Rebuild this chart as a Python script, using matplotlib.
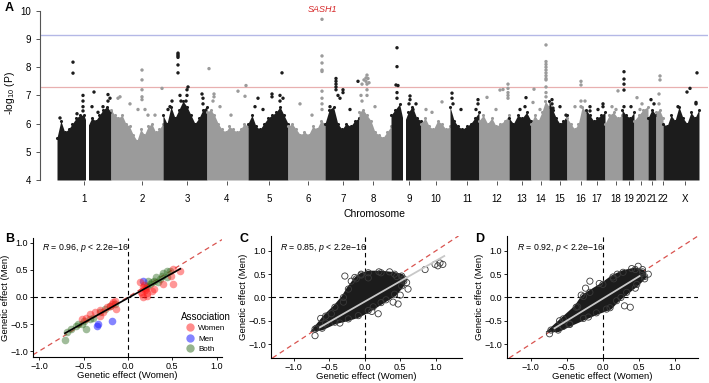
import numpy as np
import matplotlib
matplotlib.use("Agg")
import matplotlib.pyplot as plt
from matplotlib.lines import Line2D

plt.rcParams['font.family'] = ['Liberation Sans', 'DejaVu Sans']
plt.rcParams['mathtext.fontset'] = 'custom'
plt.rcParams['mathtext.rm'] = 'Liberation Sans'
plt.rcParams['mathtext.it'] = 'Liberation Sans:italic'

# ---- panel A: Manhattan plot ----
chrom_names = ["1", "2", "3", "4", "5", "6", "7", "8", "9", "10", "11", "12",
               "13", "14", "15", "16", "17", "18", "19", "20", "21", "22", "X"]
chrom_start = [17, 71, 123, 167, 208, 248, 285, 319, 351, 381, 410, 439,
               469, 491, 509, 527, 546, 565, 582, 594, 608, 616, 623]
chrom_end = [71, 123, 167, 208, 248, 285, 319, 351, 381, 410, 439, 469,
             491, 509, 527, 546, 565, 582, 594, 608, 616, 623, 659]
chrom_tick = [44, 102, 147, 187, 229, 268, 303, 333, 369, 396, 427, 457,
              482, 501, 520, 541, 557, 576, 589, 601, 612, 623, 645]
centromere_gaps = [(46, 49), (363, 366)]

# top of the dense cloud of SNPs along each chromosome (-log10 P)
bulk_tops = [
    [5.5, 6.1, 5.7, 5.8, 6.0, 6.2, 6.3, 6.3, 5.9, 6.2, 6.1, 6.3, 6.5, 6.6, 6.4],
    [6.5, 6.3, 6.2, 6.3, 6.0, 5.9, 5.6, 5.4, 5.8, 5.6, 5.9, 6.0, 5.7, 5.8, 6.0],
    [6.3, 6.0, 6.6, 6.2, 6.5, 6.8, 6.6, 6.3, 6.0, 6.2, 6.5, 6.6],
    [6.4, 6.5, 6.3, 6.0, 5.8, 5.7, 5.9, 5.8, 5.7, 5.8, 6.0, 5.9],
    [6.0, 6.3, 5.9, 5.8, 6.0, 6.2, 6.3, 6.4, 6.6, 6.3, 6.0],
    [5.9, 6.0, 5.8, 5.6, 5.7, 5.6, 5.9, 5.8, 6.1, 6.0],
    [6.0, 6.5, 6.6, 6.0, 5.8, 6.0, 5.9, 6.1, 6.2],
    [6.4, 6.5, 6.3, 6.1, 5.7, 5.6, 5.5, 5.7, 5.9],
    [6.3, 6.5, 6.7, 6.0, 6.4, 6.6, 6.2, 6.1],
    [6.0, 6.2, 5.9, 5.8, 6.1, 6.0, 5.8, 5.9],
    [6.6, 6.1, 5.9, 5.8, 5.9, 6.0, 6.2, 6.4],
    [6.1, 6.3, 6.0, 6.2, 5.9, 6.0, 6.1, 6.3],
    [6.2, 6.0, 6.3, 6.2, 6.4, 6.1],
    [6.0, 6.3, 6.1, 6.4, 6.8, 6.6],
    [6.8, 6.5, 6.2, 6.0, 6.1, 6.3],
    [6.2, 6.0, 5.8, 6.0, 6.6, 6.4],
    [6.5, 6.3, 6.1, 6.2, 6.3, 6.4],
    [6.0, 6.3, 6.4, 6.2, 6.3],
    [6.5, 6.3, 6.2, 6.4],
    [6.1, 6.3, 6.5, 6.6],
    [6.2, 6.5, 6.3],
    [6.4, 6.5, 6.2],
    [6.0, 5.9, 6.3, 6.1, 6.6, 6.2, 6.0, 6.4, 6.2, 6.5],
]

# individual SNPs standing out above the cloud (position, -log10 P)
hit_pos = [33, 33, 20, 43, 43, 43, 43, 37, 54, 52, 63, 68, 68, 70, 58,
           78, 80, 90, 98, 102, 102, 102, 102, 102, 105, 108, 115, 122,
           138, 138, 138, 138, 138, 138, 140, 141, 148, 147, 147, 146, 132, 130, 162, 163, 163, 128,
           169, 174, 174, 173, 180, 198, 206, 205, 191,
           242, 218, 215, 232, 232, 240, 240, 243, 223,
           282, 282, 282, 282, 282, 282, 282, 282, 282, 260, 272,
           296, 296, 296, 296, 296, 298, 303, 303, 300, 318, 290, 310,
           327, 326, 328, 324, 326, 329, 327, 322, 321, 322, 327, 327, 335,
           357, 357, 356, 358, 357, 357, 370, 370, 369, 376, 373,
           402, 386, 392,
           412, 412, 413, 421, 438, 438, 436,
           468, 468, 468, 468, 468, 460, 463, 447, 456,
           486, 485, 480,
           506, 506, 506, 506, 506, 506, 506, 506, 506, 506, 506, 506, 494, 493, 500,
           512, 512, 513, 526, 520,
           541, 541, 541, 541, 545, 535,
           550, 550, 563, 563, 558,
           578, 572, 576,
           584, 584, 584, 584, 584, 591,
           597, 602, 600,
           611, 614,
           620, 620, 619, 619,
           657, 650, 647, 656, 656, 638, 640]
hit_logp = [8.18, 7.79, 6.2, 7.0, 6.8, 6.6, 6.45, 6.35, 7.12, 6.6, 6.6, 7.03, 6.8, 6.9, 6.4,
            6.9, 6.95, 6.7, 6.5, 7.9, 7.55, 7.2, 6.95, 6.85, 6.5, 6.3, 6.3, 7.25,
            8.5, 8.45, 8.4, 8.35, 8.08, 7.8, 7.0, 6.8, 7.3, 7.2, 7.0, 6.8, 6.8, 6.6, 7.05, 6.9, 6.7, 6.5,
            7.95, 6.95, 7.05, 6.8, 6.6, 7.15, 7.35, 6.97, 6.3,
            7.8, 6.9, 6.6, 7.05, 6.95, 7.0, 6.8, 6.9, 6.5,
            9.7, 8.4, 8.15, 7.9, 7.85, 7.15, 6.9, 6.7, 6.5, 6.7, 6.3,
            7.6, 7.5, 7.4, 7.3, 7.2, 7.0, 7.2, 7.1, 6.9, 7.5, 6.6, 6.5,
            7.72, 7.62, 7.6, 7.55, 7.5, 7.45, 7.4, 7.4, 7.0, 6.8, 7.2, 7.0, 6.6,
            8.69, 8.02, 7.37, 7.35, 7.1, 6.9, 6.98, 6.85, 6.7, 6.7, 6.5,
            6.77, 6.5, 6.4,
            7.08, 6.9, 6.7, 6.5, 6.85, 6.7, 6.5,
            7.4, 7.25, 7.1, 7.0, 6.9, 7.19, 7.21, 6.93, 6.5,
            6.92, 6.6, 6.5,
            8.79, 8.2, 8.1, 8.0, 7.9, 7.8, 7.7, 7.6, 7.55, 7.3, 7.1, 6.95, 7.22, 6.75, 6.5,
            6.85, 6.7, 6.55, 6.3, 6.6,
            7.5, 7.37, 6.8, 6.6, 6.8, 6.6,
            6.6, 6.45, 6.7, 6.6, 6.5,
            7.16, 6.6, 6.5,
            7.84, 7.58, 7.4, 7.19, 6.6, 6.6,
            6.92, 6.7, 6.5,
            6.85, 6.7,
            7.69, 7.55, 7.05, 6.7,
            7.8, 7.25, 7.12, 6.7, 6.75, 6.6, 6.3]
bonferroni_line = 9.15
gws_line = 7.3

# ---- panel B: lead SNPs coloured by association ----
b_women_x = [0.14, 0.17, 0.19, 0.21, 0.16, 0.18, 0.20, 0.15, 0.22, 0.17, 0.19, 0.59, 0.51,
             0.49, 0.51, 0.40, 0.29, 0.27, -0.17, -0.18, -0.24, -0.32, -0.37, -0.43,
             -0.52, -0.47, -0.20, -0.13, -0.32, -0.28, -0.15]
b_women_y = [0.27, 0.18, 0.12, 0.08, 0.05, 0.22, 0.15, 0.10, 0.02, 0.00, 0.16, 0.48, 0.51,
             0.39, 0.24, 0.24, 0.14, 0.11, -0.10, -0.13, -0.19, -0.25, -0.28, -0.31,
             -0.41, -0.38, -0.16, -0.22, -0.35, -0.28, -0.08]
b_men_x = [-0.18, -0.35, -0.34, 0.17]
b_men_y = [-0.44, -0.53, -0.50, 0.30]
b_both_x = [0.40, 0.32, 0.44, 0.36, 0.27, 0.23, 0.29, 0.21, 0.25, 0.34, 0.38, 0.44, 0.47,
            -0.69, -0.64, -0.71, -0.58, -0.52, -0.47, -0.50, -0.43, -0.39, -0.32, -0.26,
            -0.20, -0.15, -0.56]
b_both_y = [0.45, 0.36, 0.36, 0.33, 0.27, 0.30, 0.30, 0.20, 0.24, 0.27, 0.39, 0.48, 0.48,
            -0.65, -0.59, -0.80, -0.53, -0.50, -0.59, -0.44, -0.41, -0.38, -0.28, -0.22,
            -0.16, -0.13, -0.50]

# ---- panel C / D: dense clouds (outline) plus scattered SNPs ----
c_cloud_x = [-0.70, -0.55, -0.42, -0.30, -0.23, -0.12, -0.05, 0.05, 0.23, 0.42, 0.52, 0.55,
             0.52, 0.42, 0.23, 0.05, -0.09, -0.23, -0.42, -0.60]
c_cloud_y = [-0.68, -0.40, -0.21, 0.00, 0.18, 0.40, 0.48, 0.53, 0.53, 0.50, 0.46, 0.35,
             0.25, 0.07, -0.11, -0.28, -0.39, -0.46, -0.53, -0.66]
c_pts_x = [0.99, 1.06, 1.10, 1.03, 0.85, 0.47, 0.19, -0.70, -0.28, -0.47, 0.61, 0.59, -0.14,
           -0.19, 0.35, 0.45, 0.50, 0.30, -0.35, -0.55, -0.62, 0.10, -0.05, 0.20, -0.30,
           0.40, 0.55, -0.68, 0.05, 0.12]
c_pts_y = [0.71, 0.74, 0.71, 0.68, 0.60, -0.14, -0.35, -0.82, 0.46, -0.35, 0.18, 0.32, 0.43,
           0.35, 0.55, 0.45, 0.05, -0.05, -0.55, -0.55, -0.45, -0.30, 0.50, 0.55, -0.10,
           -0.10, 0.40, -0.66, 0.42, -0.20]
c_fit_x = [-0.63, 1.12]
c_fit_y = [-0.64, 0.89]

d_cloud_x = [-0.72, -0.55, -0.37, -0.27, -0.18, 0.00, 0.14, 0.28, 0.45, 0.55, 0.58,
             0.47, 0.33, 0.19, 0.10, -0.09, -0.27, -0.46, -0.62]
d_cloud_y = [-0.70, -0.46, -0.21, 0.02, 0.11, 0.28, 0.44, 0.54, 0.60, 0.55, 0.45,
             0.28, 0.11, -0.07, -0.22, -0.33, -0.45, -0.58, -0.70]
d_pts_x = [0.63, 0.49, -0.18, 0.38, -0.74, -0.46, 0.30, 0.55, 0.40, 0.20, -0.05, -0.30,
           0.45, 0.25, 0.05, -0.20, -0.55, -0.60, 0.58, -0.35, 0.15, -0.24]
d_pts_y = [0.50, 0.67, 0.35, -0.21, -0.78, -0.57, -0.18, 0.60, 0.62, 0.50, 0.30, 0.05,
           0.20, 0.00, -0.25, -0.42, -0.62, -0.50, 0.40, -0.20, 0.40, 0.20]
d_fit_x = [-0.67, 0.51]
d_fit_y = [-0.66, 0.46]

stat_labels = ["0.96", "0.85", "0.92"]

BLACK = "#1c1c1c"
GREY = "#9b9b9b"
MINUS = "\u2212"

fig = plt.figure(figsize=(7.09, 3.83), dpi=100)
W, H = 709.0, 383.0


def px_axes(l, t, r, b):
    return fig.add_axes([l / W, 1 - b / H, (r - l) / W, (b - t) / H])


# ---------- A ----------
ax = px_axes(40, 5.2, 708, 181.4)
ax.set_xlim(0, 668)
ax.set_ylim(3.95, 10.2)
for i in range(len(chrom_names)):
    col = BLACK if i % 2 == 0 else GREY
    xs = np.linspace(chrom_start[i], chrom_end[i], len(bulk_tops[i]))
    ax.fill_between(xs, 4, bulk_tops[i], color=col, lw=0)
    ax.scatter(xs, bulk_tops[i], s=5, color=col, lw=0)
for g0, g1 in centromere_gaps:
    ax.axvspan(g0, g1, ymin=0, ymax=1, color="white", lw=0)
hit_pos = np.array(hit_pos)
idx = np.searchsorted(np.array(chrom_start), hit_pos, side="right") - 1
hit_cols = [BLACK if k % 2 == 0 else GREY for k in idx]
ax.scatter(hit_pos, hit_logp, s=6, c=hit_cols, lw=0, zorder=3)
ax.axhline(bonferroni_line, color="#b4b8e6", lw=1.0, zorder=1)
ax.axhline(gws_line, color="#e8b0b0", lw=0.9, zorder=1)
ax.text(282, 10.05, "SASH1", color="#d62728", fontsize=6.5, style="italic",
        ha="center", va="center")
for s in ["top", "right", "bottom"]:
    ax.spines[s].set_visible(False)
ax.spines["left"].set_bounds(4, 10)
ax.spines["left"].set_color("#555555")
ax.set_yticks(range(4, 11))
ax.set_xticks(chrom_tick)
ax.set_xticklabels(chrom_names)
ax.tick_params(axis="both", labelsize=7, length=3, color="#555555", width=0.7)
ax.tick_params(axis="x", pad=6)
ax.set_ylabel(r"-log$_{10}$ (P)", fontsize=7.5, labelpad=2)
ax.set_xlabel("Chromosome", fontsize=7.5, labelpad=4)
fig.text(5 / W, 1 - 11 / H, "A", fontsize=9, fontweight="bold")


def scatter_panel(ax, xlim, ylim, stat, sx, sy):
    ax.set_xlim(*xlim)
    ax.set_ylim(*ylim)
    ax.axline((0, 0), slope=1, color="#d9534f", lw=0.9, ls=(0, (4, 3)), zorder=0)
    ax.axhline(0, color="black", lw=0.8, ls=(0, (4, 3)), zorder=0)
    ax.axvline(0, color="black", lw=0.8, ls=(0, (4, 3)), zorder=0)
    for s in ["top", "right"]:
        ax.spines[s].set_visible(False)
    ax.set_xticks([-1.0, -0.5, 0.0, 0.5, 1.0])
    ax.set_yticks([-1.0, -0.5, 0.0, 0.5, 1.0])
    ax.xaxis.set_major_formatter(lambda v, p: f"{v:.1f}".replace("-", MINUS))
    ax.yaxis.set_major_formatter(lambda v, p: f"{v:.1f}".replace("-", MINUS))
    ax.tick_params(labelsize=6.5, length=2.5, width=0.6, pad=1)
    ax.set_xlabel("Genetic effect (Women)", fontsize=6.8, labelpad=0)
    ax.set_ylabel("Genetic effect (Men)", fontsize=6.8, labelpad=0.5)
    ax.text(sx, sy, r"$R$ = " + stat + r", $p$ < 2.2e" + MINUS + "16",
            fontsize=6.3, ha="left", va="center")


# ---------- B ----------
ax = px_axes(33, 238, 222, 357)
scatter_panel(ax, (-1.07, 1.06), (-1.11, 1.09), stat_labels[0], -0.97, 0.91)
ms = 30
ax.scatter(b_both_x, b_both_y, s=ms, color="#2e6b1f", alpha=0.45, lw=0, zorder=2)
ax.scatter(b_men_x, b_men_y, s=ms, color="#1f1fff", alpha=0.55, lw=0, zorder=2)
ax.scatter(b_women_x, b_women_y, s=ms, color="#ff1a1a", alpha=0.45, lw=0, zorder=2)
allx = np.array(b_women_x + b_men_x + b_both_x)
ally = np.array(b_women_y + b_men_y + b_both_y)
k, c0 = np.polyfit(allx, ally, 1)
xx = np.array([allx.min(), allx.max()])
ax.plot(xx, k * xx + c0, color="black", lw=1.2, zorder=3)
handles = [Line2D([], [], marker="o", ls="", markersize=6, markeredgewidth=0,
                  color=c, alpha=a) for c, a in
           [("#ff1a1a", 0.5), ("#1f1fff", 0.55), ("#2e6b1f", 0.5)]]
leg = ax.legend(handles, ["Women", "Men", "Both"], title="Association",
                loc="upper left", bbox_to_anchor=(0.76, 0.42), frameon=False,
                fontsize=5.8, title_fontsize=7, handletextpad=0.1,
                labelspacing=0.35, borderpad=0.1)
leg._legend_box.align = "left"
fig.text(5 / W, 1 - 242 / H, "B", fontsize=9, fontweight="bold")

# ---------- C ----------
ax = px_axes(271, 236, 462, 358)
scatter_panel(ax, (-1.32, 1.37), (-1.30, 1.32), stat_labels[1], -1.2, 1.06)
ax.fill(c_cloud_x, c_cloud_y, color=BLACK, ec=BLACK, lw=3, zorder=2)
ax.scatter(c_cloud_x + c_pts_x, c_cloud_y + c_pts_y, s=20, facecolors="none",
           edgecolors="#3a3a3a", lw=0.6, zorder=2)
ax.plot(c_fit_x, c_fit_y, color="#c8c8c8", lw=1.3, zorder=3)
fig.text(240 / W, 1 - 242 / H, "C", fontsize=9, fontweight="bold")

# ---------- D ----------
ax = px_axes(507, 236, 698, 358)
scatter_panel(ax, (-1.33, 1.32), (-1.30, 1.32), stat_labels[2], -1.19, 1.06)
ax.fill(d_cloud_x, d_cloud_y, color=BLACK, ec=BLACK, lw=3, zorder=2)
ax.scatter(d_cloud_x + d_pts_x, d_cloud_y + d_pts_y, s=20, facecolors="none",
           edgecolors="#3a3a3a", lw=0.6, zorder=2)
ax.plot(d_fit_x, d_fit_y, color="#c8c8c8", lw=1.3, zorder=3)
fig.text(475 / W, 1 - 242 / H, "D", fontsize=9, fontweight="bold")

fig.savefig("out.png", dpi=100)
